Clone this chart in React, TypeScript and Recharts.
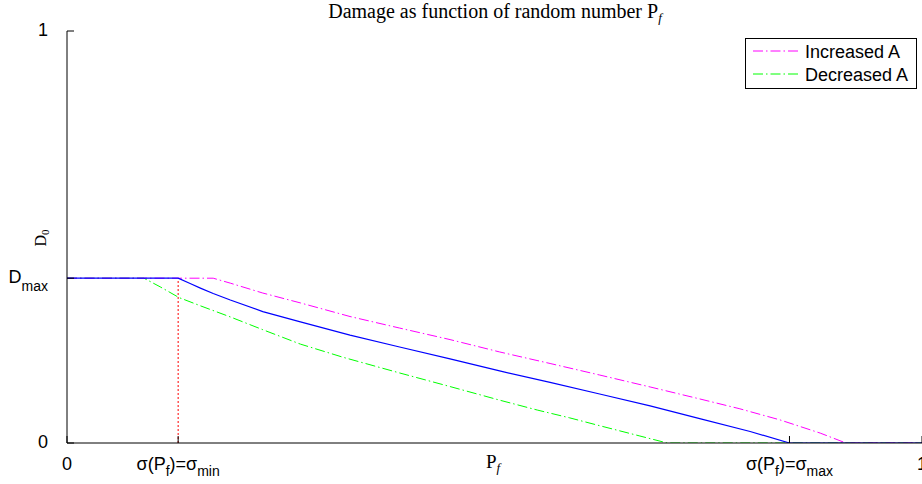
import React from 'react';
import { LineChart, Line, XAxis, YAxis, ReferenceLine, Legend } from 'recharts';

// ---- data ----
const sigmaMin = 0.13;
const sigmaMax = 0.845;
const dMax = 0.4;

const baseX = [0, 0.13, 0.144, 0.156, 0.171, 0.191, 0.229, 0.273, 0.331, 0.389, 0.448, 0.506, 0.565, 0.623, 0.682, 0.74, 0.799, 0.845, 1];
const baseY = [0.4, 0.4, 0.387, 0.376, 0.363, 0.347, 0.319, 0.294, 0.262, 0.233, 0.204, 0.175, 0.147, 0.119, 0.09, 0.059, 0.028, 0, 0];

const increasedX = [0, 0.171, 0.191, 0.229, 0.273, 0.331, 0.389, 0.448, 0.506, 0.565, 0.623, 0.682, 0.74, 0.787, 0.834, 0.881, 0.911, 1];
const increasedY = [0.4, 0.4, 0.388, 0.364, 0.34, 0.307, 0.279, 0.251, 0.221, 0.193, 0.165, 0.136, 0.107, 0.083, 0.056, 0.024, 0, 0];

const decreasedX = [0, 0.09, 0.109, 0.131, 0.156, 0.191, 0.229, 0.273, 0.323, 0.389, 0.448, 0.506, 0.55, 0.588, 0.623, 0.67, 0.702, 1];
const decreasedY = [0.4, 0.4, 0.379, 0.353, 0.333, 0.306, 0.275, 0.24, 0.208, 0.17, 0.137, 0.104, 0.08, 0.061, 0.042, 0.017, 0, 0];

const xTicks = [0, sigmaMin, sigmaMax, 1];
const xTickLabels: string[][] = [['0'], ['σ(P', 'f', ')=σ', 'min'], ['σ(P', 'f', ')=σ', 'max'], ['1']];
const yTicks = [0, dMax, 1];
const yTickLabels: string[][] = [['0'], ['D', 'max'], ['1']];

const legendNames = ['Increased A', 'Decreased A'];
const legendColors = ['#ff00ff', '#00ff00'];

const titleText = 'Damage as function of random number P';
const titleSub = 'f';
const xLabelText = 'P';
const xLabelSub = 'f';
const yLabelText = 'D';
const yLabelSub = '0';

const toPoints = (xs: number[], ys: number[]) => xs.map((x, i) => ({ x, y: ys[i] }));
const baseData = toPoints(baseX, baseY);
const increasedData = toPoints(increasedX, increasedY);
const decreasedData = toPoints(decreasedX, decreasedY);

const SANS = '"Liberation Sans", Arial, Helvetica, sans-serif';
const SERIF = '"Liberation Serif", "Times New Roman", serif';
const DASH = '10 3 1.5 3';
const TICK = 7;

const renderParts = (parts: string[], subSize: number, subDy: number) =>
  parts.map((p, i) => {
    const isSub = i % 2 === 1;
    const dy = isSub ? subDy : i > 0 ? -subDy : 0;
    return (
      <tspan key={i} dy={dy} fontSize={isSub ? subSize : undefined}>
        {p}
      </tspan>
    );
  });

const findIdx = (arr: number[], v: number) => {
  let best = 0;
  arr.forEach((a, i) => {
    if (Math.abs(a - v) < Math.abs(arr[best] - v)) best = i;
  });
  return best;
};

const BottomTick = (props: any) => {
  const { x, y, payload } = props;
  const idx = findIdx(xTicks, payload.value);
  return (
    <g>
      <line x1={x} y1={y} x2={x} y2={y - TICK} stroke="#000" strokeWidth={1} />
      <text x={x} y={y + 27} textAnchor="middle" fontFamily={SANS} fontSize={18} fill="#000">
        {renderParts(xTickLabels[idx], 14, 6)}
      </text>
    </g>
  );
};

const TopTick = (props: any) => {
  const { x, y } = props;
  return <line x1={x} y1={y} x2={x} y2={y + TICK} stroke="#000" strokeWidth={1} />;
};

const LeftTick = (props: any) => {
  const { x, y, payload } = props;
  const idx = findIdx(yTicks, payload.value);
  return (
    <g>
      <line x1={x} y1={y} x2={x + TICK} y2={y} stroke="#000" strokeWidth={1} />
      <text x={x - 19} y={y + 5} textAnchor="end" fontFamily={SANS} fontSize={18} fill="#000">
        {renderParts(yTickLabels[idx], 14, 8)}
      </text>
    </g>
  );
};

const RightTick = (props: any) => {
  const { x, y } = props;
  return <line x1={x} y1={y} x2={x - TICK} y2={y} stroke="#000" strokeWidth={1} />;
};

const LegendBox = () => (
  <svg width={173} height={52} style={{ display: 'block' }}>
    <rect x={0.5} y={0.5} width={171} height={50} fill="#fff" stroke="#000" strokeWidth={1} />
    {legendNames.map((name, i) => {
      const ly = 13 + i * 23;
      return (
        <g key={name}>
          <line x1={8} y1={ly} x2={55} y2={ly} stroke={legendColors[i]} strokeWidth={1} strokeDasharray={DASH} />
          <text x={60} y={ly + 7} fontFamily={SANS} fontSize={18} fill="#000">
            {name}
          </text>
        </g>
      );
    })}
  </svg>
);

export default function App() {
  return (
    <div style={{ position: 'absolute', left: 0, top: 0, width: 922, height: 484, overflow: 'hidden', background: '#fff' }}>
      <LineChart width={940} height={484} margin={{ top: 31, right: 18, bottom: 0, left: 0 }}>
        <XAxis
          xAxisId={0}
          dataKey="x"
          type="number"
          domain={[0, 1]}
          ticks={xTicks}
          interval={0}
          height={41}
          tickSize={0}
          tickMargin={0}
          tickLine={false}
          axisLine={{ stroke: '#000', strokeWidth: 1 }}
          tick={<BottomTick />}
          allowDataOverflow
        />
        <XAxis
          xAxisId="top"
          orientation="top"
          dataKey="x"
          type="number"
          domain={[0, 1]}
          ticks={xTicks}
          interval={0}
          height={0}
          tickSize={0}
          tickMargin={0}
          tickLine={false}
          axisLine={{ stroke: '#222', strokeWidth: 1 }}
          tick={<TopTick />}
          allowDataOverflow
        />
        <YAxis
          yAxisId={0}
          type="number"
          domain={[0, 1]}
          ticks={yTicks}
          interval={0}
          width={67}
          tickSize={0}
          tickMargin={0}
          tickLine={false}
          axisLine={{ stroke: '#000', strokeWidth: 1 }}
          tick={<LeftTick />}
          allowDataOverflow
        />
        <YAxis
          yAxisId="right"
          orientation="right"
          type="number"
          domain={[0, 1]}
          ticks={yTicks}
          interval={0}
          width={0}
          tickSize={0}
          tickMargin={0}
          tickLine={false}
          axisLine={{ stroke: '#000', strokeWidth: 1 }}
          tick={<RightTick />}
          allowDataOverflow
        />
        <Legend
          layout="vertical"
          align="center"
          verticalAlign="middle"
          content={() => <LegendBox />}
          wrapperStyle={{ position: 'absolute', left: 745, top: 38, width: 173, height: 52 }}
        />
        <ReferenceLine
          segment={[{ x: sigmaMin, y: 0 }, { x: sigmaMin, y: dMax }]}
          stroke="#ff0000"
          strokeWidth={1}
          strokeDasharray="2 2"
        />
        <Line
          data={decreasedData}
          dataKey="y"
          name={legendNames[1]}
          type="linear"
          stroke={legendColors[1]}
          strokeWidth={1}
          strokeDasharray={DASH}
          dot={false}
          activeDot={false}
          isAnimationActive={false}
        />
        <Line
          data={increasedData}
          dataKey="y"
          name={legendNames[0]}
          type="linear"
          stroke={legendColors[0]}
          strokeWidth={1}
          strokeDasharray={DASH}
          dot={false}
          activeDot={false}
          isAnimationActive={false}
        />
        <Line
          data={baseData}
          dataKey="y"
          name="base"
          type="linear"
          stroke="#0000ff"
          strokeWidth={1.2}
          dot={false}
          activeDot={false}
          isAnimationActive={false}
        />
      </LineChart>
      <svg width={922} height={484} style={{ position: 'absolute', left: 0, top: 0, pointerEvents: 'none' }}>
        <text x={495} y={18} textAnchor="middle" fontFamily={SERIF} fontSize={20} fill="#000">
          <tspan>{titleText}</tspan>
          <tspan dy={4} fontSize={13} fontStyle="italic">{titleSub}</tspan>
        </text>
        <text x={493} y={468} textAnchor="middle" fontFamily={SERIF} fontSize={19} fill="#000">
          <tspan>{xLabelText}</tspan>
          <tspan dy={4} fontSize={13} fontStyle="italic">{xLabelSub}</tspan>
        </text>
        <text x={46} y={238} textAnchor="middle" fontFamily={SERIF} fontSize={16} fill="#000" transform="rotate(-90 46 238)">
          <tspan>{yLabelText}</tspan>
          <tspan dy={3} fontSize={11}>{yLabelSub}</tspan>
        </text>
      </svg>
    </div>
  );
}
